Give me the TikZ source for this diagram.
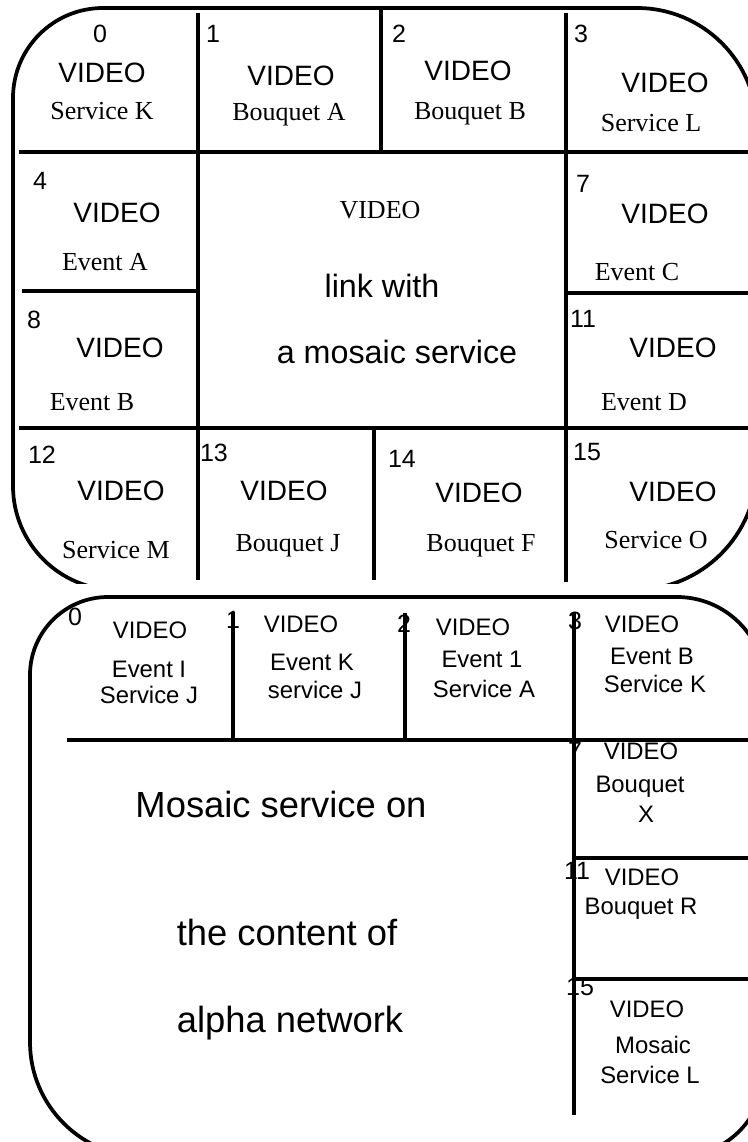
\documentclass[tikz,border=0pt]{standalone}
\usepackage{fontspec}
\setmainfont{Liberation Serif}
\newfontfamily\arial{Liberation Sans}
\begin{document}
\begin{tikzpicture}[x=1bp,y=-1bp,
  ol/.style={line width=3.75pt},
  gl/.style={line width=4pt},
  num/.style={font=\arial\fontsize{25.1}{27}\selectfont,anchor=base,inner sep=0pt},
  vid/.style={font=\arial\fontsize{28.1}{30}\selectfont,anchor=base,inner sep=0pt},
  tl/.style={font=\fontsize{26.1}{28}\selectfont,anchor=base,inner sep=0pt},
  mid/.style={font=\arial\fontsize{32.4}{34}\selectfont,anchor=base,inner sep=0pt},
  big/.style={font=\arial\fontsize{36.5}{38}\selectfont,anchor=base,inner sep=0pt},
  bt/.style={font=\arial\fontsize{23.96}{25}\selectfont,anchor=base,inner sep=0pt},
  bnum/.style={font=\arial\fontsize{25.1}{27}\selectfont,anchor=base,inner sep=0pt}]
\path[use as bounding box] (0,0) rectangle (748,1142);
\clip (0,0) rectangle (748,1142);

% ---------- top panel ----------
\begin{scope}
\clip (0,0) rectangle (748,583);
\draw[ol] (13,98) arc[start angle=180,end angle=270,radius=90] -- (637,8)
  arc[start angle=-90,end angle=0,radius=120] -- (757,467)
  arc[start angle=0,end angle=90,radius=123] -- (117,590)
  arc[start angle=90,end angle=180,radius=104] -- cycle;
\draw[gl] (198,13) -- (198,580);
\draw[gl] (381,8) -- (381,152);
\draw[gl] (566,13) -- (566,582);
\draw[gl] (19,152) -- (752,152);
\draw[gl] (22,291) -- (198,291);
\draw[gl] (566,293) -- (752,293);
\draw[gl] (19,428) -- (752,428);
\draw[gl] (374,428) -- (374,580);
\end{scope}

\node[num] (n0) at (100,42) {0};
\node[vid] (v0) at (102,82) {VIDEO};
\node[tl] (l0) at (102,119) {Service K};
\node[num] (n1) at (213,42) {1};
\node[vid] (v1) at (291,85) {VIDEO};
\node[tl] (l1) at (289,120) {Bouquet A};
\node[num] (n2) at (399,42) {2};
\node[vid] (v2) at (468,80) {VIDEO};
\node[tl] (l2) at (470,119) {Bouquet B};
\node[num] (n3) at (581,42) {3};
\node[vid] (v3) at (665,92) {VIDEO};
\node[tl] (l3) at (651,131) {Service L};
\node[num] (n4) at (40,189) {4};
\node[vid] (v4) at (117,222) {VIDEO};
\node[tl] (l4) at (105,270) {Event A};
\node[num] (n7) at (583,192) {7};
\node[vid] (v7) at (665,223) {VIDEO};
\node[tl] (l7) at (637,280) {Event C};
\node[num] (n8) at (34,328) {8};
\node[vid] (v8) at (120,357) {VIDEO};
\node[tl] (l8) at (92,410) {Event B};
\node[num] (n11) at (583,327) {11};
\node[vid] (v11) at (673,357) {VIDEO};
\node[tl] (l11) at (644,410) {Event D};
\node[num] (n12) at (42,463) {12};
\node[vid] (v12) at (121,500) {VIDEO};
\node[tl] (l12) at (116,558) {Service M};
\node[num] (n13) at (214,461) {13};
\node[vid] (v13) at (284,500) {VIDEO};
\node[tl] (l13) at (288,551) {Bouquet J};
\node[num] (n14) at (402,467) {14};
\node[vid] (v14) at (479,502) {VIDEO};
\node[tl] (l14) at (481,551) {Bouquet F};
\node[num] (n15) at (587,460) {15};
\node[vid] (v15) at (673,501) {VIDEO};
\node[tl] (l15) at (656,548) {Service O};
\node[tl] (cv) at (380,218) {VIDEO};
\node[mid] (c1) at (382,297) {link with};
\node[mid] (c2) at (397,363) {a mosaic service};

% ---------- bottom panel ----------
\draw[ol] (30,675) arc[start angle=180,end angle=270,radius=78] -- (677,597)
  arc[start angle=-90,end angle=0,radius=88] -- (765,1069)
  arc[start angle=0,end angle=90,radius=88] -- (145,1157)
  arc[start angle=90,end angle=180,radius=115] -- cycle;
\draw[gl] (67,740) -- (752,740);
\draw[gl] (233,612) -- (233,740);
\draw[gl] (405,613) -- (405,740);
\draw[gl] (574,613) -- (574,1115);
\draw[gl] (575,858) -- (752,858);
\draw[gl] (575,979) -- (752,979);

\node[bnum] (m0) at (75,625) {0};
\node[bnum] (m1) at (233,628) {1};
\node[bnum] (m2) at (404,632) {2};
\node[bnum] (m3) at (575,629) {3};
\node[bnum] (m7) at (575,759) {7};
\node[bnum] (m11) at (577,879) {11};
\node[bnum] (m15) at (580,995) {15};

\node[bt] (a0) at (150,638) {VIDEO};
\node[bt] (b0) at (149,677) {Event I};
\node[bt] (c0) at (149,703) {Service J};
\node[bt] (a1) at (301,632) {VIDEO};
\node[bt] (b1) at (312,670) {Event K};
\node[bt] (d1) at (315,698) {service J};
\node[bt] (a2) at (473,635) {VIDEO};
\node[bt] (b2) at (482,667) {Event 1};
\node[bt] (d2) at (484,697) {Service A};
\node[bt] (a3) at (642,632) {VIDEO};
\node[bt] (b3) at (652,664) {Event B};
\node[bt] (d3) at (655,692) {Service K};
\node[bt] (a7) at (641,759) {VIDEO};
\node[bt] (b7) at (640,792) {Bouquet};
\node[bt] (d7) at (646,822) {X};
\node[bt] (a11) at (642,885) {VIDEO};
\node[bt] (b11) at (641,914) {Bouquet R};
\node[bt] (a15) at (647,1017) {VIDEO};
\node[bt] (b15) at (653,1053) {Mosaic};
\node[bt] (d15) at (650,1083) {Service L};

\node[big] (t1) at (281,817) {Mosaic service on};
\node[big] (t2) at (287,945) {the content of};
\node[big] (t3) at (290,1032) {alpha network};
\end{tikzpicture}
\end{document}
